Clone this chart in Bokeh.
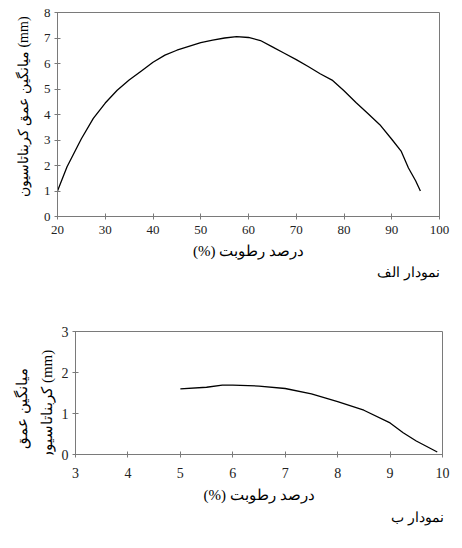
import math
from bokeh.plotting import figure
from bokeh.layouts import column, row
from bokeh.models import Range1d, FixedTicker, Title
from bokeh.core.properties import value
from bokeh.embed import file_html
from bokeh.resources import INLINE

# Chart A (نمودار الف)
moisture_a = [20, 22, 25, 27.5, 30, 32.5, 35, 37.5, 40, 42.5, 45, 47.5, 50, 52.5, 55,
              57.5, 60, 62.5, 65, 67.5, 70, 72.5, 75, 77.5, 80, 82.5, 85, 87.5, 90,
              92, 93.5, 95, 96]
depth_a = [1.0, 1.95, 3.05, 3.85, 4.45, 4.95, 5.35, 5.7, 6.05, 6.33, 6.52, 6.67, 6.82,
           6.92, 7.0, 7.05, 7.02, 6.9, 6.65, 6.4, 6.15, 5.88, 5.6, 5.35, 4.93, 4.47,
           4.04, 3.6, 3.03, 2.55, 1.9, 1.4, 1.0]
xticks_a = [20, 30, 40, 50, 60, 70, 80, 90, 100]
yticks_a = [0, 1, 2, 3, 4, 5, 6, 7, 8]

# Chart B (نمودار ب)
moisture_b = [5.0, 5.5, 5.8, 6.0, 6.5, 7.0, 7.5, 8.0, 8.5, 9.0, 9.25, 9.5, 9.9]
depth_b = [1.6, 1.64, 1.69, 1.69, 1.67, 1.61, 1.48, 1.29, 1.08, 0.77, 0.53, 0.33, 0.06]
xticks_b = [3, 4, 5, 6, 7, 8, 9, 10]
yticks_b = [0, 1, 2, 3]

xlabel = "(%) درصد رطوبت"
ylabel_a = "میانگین عمق کربناتاسیون (mm)"
ylabel_b1 = "میانگین عمق"
ylabel_b2 = "کربناتاسیون (mm)"
title_a = "نمودار الف"
title_b = "نمودار ب"

AX = "#7a7a7a"
TXT = "#222222"
FONT = "Liberation Serif"


def style(p, xticks, yticks, tick_size):
    p.grid.visible = False
    p.outline_line_color = AX
    p.outline_line_width = 1
    p.background_fill_color = "white"
    p.border_fill_color = "white"
    for ax in (p.xaxis[0], p.yaxis[0]):
        ax.axis_line_color = AX
        ax.major_tick_line_color = AX
        ax.major_tick_in = 3
        ax.major_tick_out = 3
        ax.minor_tick_line_color = None
        ax.major_label_text_font = FONT
        ax.major_label_text_font_size = tick_size
        ax.major_label_text_color = TXT
        ax.axis_label_text_font = FONT
        ax.axis_label_text_font_size = "15px"
        ax.axis_label_text_font_style = "normal"
        ax.axis_label_text_color = "black"
    p.xaxis[0].ticker = FixedTicker(ticks=xticks)
    p.yaxis[0].ticker = FixedTicker(ticks=yticks)
    p.yaxis[0].major_label_standoff = 4


def below_title(p, text, offset=0, standoff=10):
    p.add_layout(Title(text=text, align="right", offset=offset, standoff=standoff,
                       text_font=FONT, text_font_size="14px",
                       text_font_style="normal", text_color="black"), "below")


def label_strip(width, height, texts, xs, ys, size):
    # narrow figure that only carries the rotated y-axis title
    f = figure(width=width, height=height, output_backend="svg", toolbar_location=None,
               x_range=Range1d(0, 1), y_range=Range1d(0, 1),
               min_border=0, outline_line_color=None)
    f.axis.visible = False
    f.grid.visible = False
    f.text(x=xs, y=ys, text=texts, angle=math.pi / 2,
           text_align="center", text_baseline="middle",
           text_font=value(FONT), text_font_size=size, text_color="black")
    return f


LBL_W = 40
H1 = 290
p1 = figure(width=454 - LBL_W, height=H1, output_backend="svg", toolbar_location=None,
            x_range=Range1d(20, 100), y_range=Range1d(0, 8),
            min_border_left=56 - LBL_W, min_border_right=15, min_border_top=12,
            min_border_bottom=74)
p1.line(moisture_a, depth_a, line_color="black", line_width=1.3)
style(p1, xticks_a, yticks_a, "13px")
p1.xaxis[0].axis_label = xlabel
p1.xaxis[0].major_label_standoff = 6
p1.xaxis[0].axis_label_standoff = 6
below_title(p1, title_a, offset=0, standoff=2)
s1 = label_strip(LBL_W, H1, [ylabel_a], [23 / LBL_W], [1 - 134 / H1], "14px")

LBL_W2 = 58
H2 = 250
p2 = figure(width=454 - LBL_W2, height=H2, output_backend="svg", toolbar_location=None,
            x_range=Range1d(3, 10), y_range=Range1d(0, 3),
            min_border_left=74 - LBL_W2, min_border_right=12, min_border_top=41,
            min_border_bottom=86)
p2.line(moisture_b, depth_b, line_color="black", line_width=1.3)
style(p2, xticks_b, yticks_b, "14px")
p2.xaxis[0].axis_label = xlabel
p2.xaxis[0].major_label_standoff = 10
p2.xaxis[0].axis_label_standoff = 6
below_title(p2, title_b, offset=-1, standoff=4)
s2 = label_strip(LBL_W2, H2, [ylabel_b1, ylabel_b2], [21 / LBL_W2, 46 / LBL_W2],
                 [1 - (446 - H1) / H2, 1 - (441 - H1) / H2], "15px")

layout = column(row(s1, p1, spacing=0), row(s2, p2, spacing=0), spacing=0)
open("out.html", "w").write(file_html(layout, INLINE))
